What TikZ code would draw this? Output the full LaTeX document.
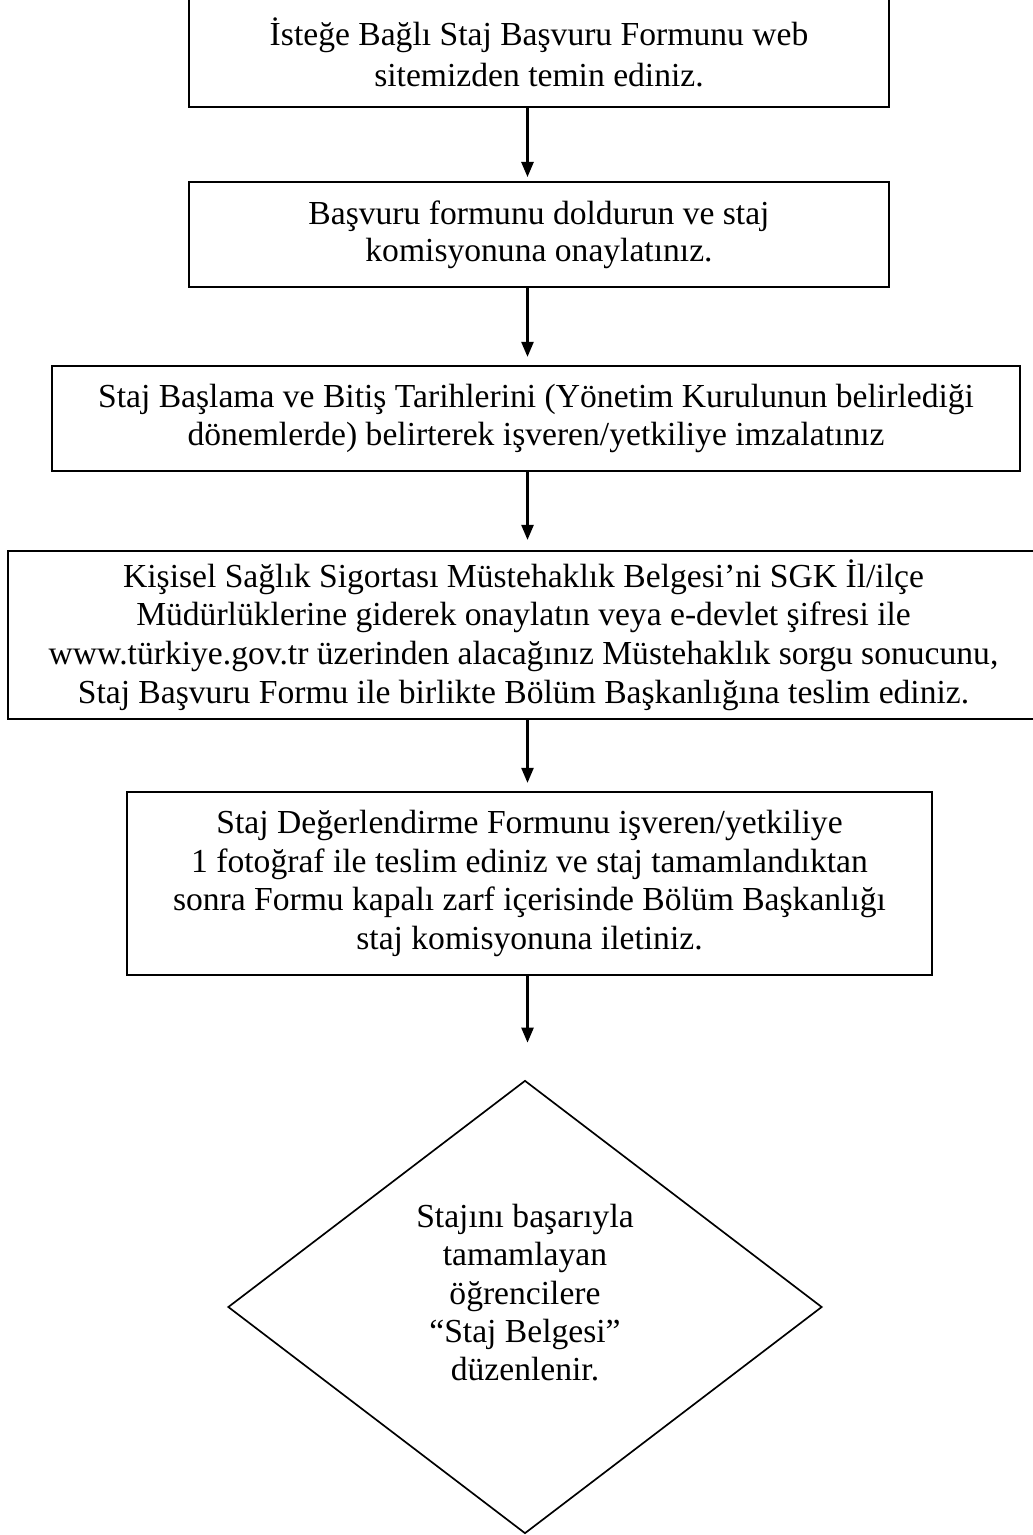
\documentclass[tikz,border=0pt]{standalone}
\usepackage{fontspec}
\setmainfont{Liberation Serif}
\usetikzlibrary{shapes.geometric,arrows.meta}
\newdimen\pxu
\pxu=0.3571pt

\begin{document}
\begin{tikzpicture}[x=\pxu, y=-\pxu,
        kutu/.style={draw, line width=0.7pt, rectangle, align=center, inner sep=0pt},
        karar/.style={draw, line width=0.6pt, diamond, align=center, inner sep=0pt},
        ok/.style={-{Triangle[width=4.3pt,length=5.4pt]}, line width=0.9pt}]
            \useasboundingbox (0, 0) rectangle (1032, 1535);

            \coordinate (eksen) at (527.5, 0);

            \node[kutu, minimum width=700*\pxu, minimum height=110*\pxu, font=\fontsize{12}{14.6}\selectfont] (b1) at (539, 52)
                { İsteğe Bağlı Staj Başvuru Formunu web\\ sitemizden temin ediniz. };
            \node[kutu, minimum width=700*\pxu, minimum height=105*\pxu, font=\fontsize{12}{13.2}\selectfont] (b2) at (539, 234.5)
                { Başvuru formunu doldurun ve staj\\ komisyonuna onaylatınız. };
            \node[kutu, minimum width=968*\pxu, minimum height=105*\pxu, font=\fontsize{12}{13.9}\selectfont] (b3) at (536, 418.5)
                { Staj Başlama ve Bitiş Tarihlerini (Yönetim Kurulunun belirlediği\\ dönemlerde) belirterek işveren/yetkiliye imzalatınız };
            \node[kutu, minimum width=1031*\pxu, minimum height=168*\pxu, font=\fontsize{12}{13.8}\selectfont] (b4) at (523.5, 635)
                { Kişisel Sağlık Sigortası Müstehaklık Belgesi’ni SGK İl/ilçe\\
                  Müdürlüklerine giderek onaylatın veya e-devlet şifresi ile\\
                  www.türkiye.gov.tr üzerinden alacağınız Müstehaklık sorgu sonucunu,\\
                  Staj Başvuru Formu ile birlikte Bölüm Başkanlığına teslim ediniz. };
            \node[kutu, minimum width=805*\pxu, minimum height=183*\pxu, font=\fontsize{12}{13.7}\selectfont] (b5) at (529.5, 883.5)
                { Staj Değerlendirme Formunu işveren/yetkiliye\\
                  1 fotoğraf ile teslim ediniz ve staj tamamlandıktan\\
                  sonra Formu kapalı zarf içerisinde Bölüm Başkanlığı\\
                  staj komisyonuna iletiniz. };
            \node[karar, minimum width=594*\pxu, minimum height=453*\pxu, text depth=29*\pxu, font=\fontsize{12}{13.7}\selectfont] (d) at (525, 1307)
                { Stajını başarıyla\\ tamamlayan\\ öğrencilere\\ “Staj Belgesi”\\ düzenlenir. };

            \draw[ok, shorten >=1.4pt] (b1.south -| eksen) -- (b2.north -| eksen);
            \draw[ok, shorten >=2.9pt] (b2.south -| eksen) -- (b3.north -| eksen);
            \draw[ok, shorten >=3.6pt] (b3.south -| eksen) -- (b4.north -| eksen);
            \draw[ok, shorten >=2.9pt] (b4.south -| eksen) -- (b5.north -| eksen);
            \draw[ok, shorten >=13.2pt] (b5.south -| eksen) -- (d.north -| eksen);
        \end{tikzpicture}
\end{document}
